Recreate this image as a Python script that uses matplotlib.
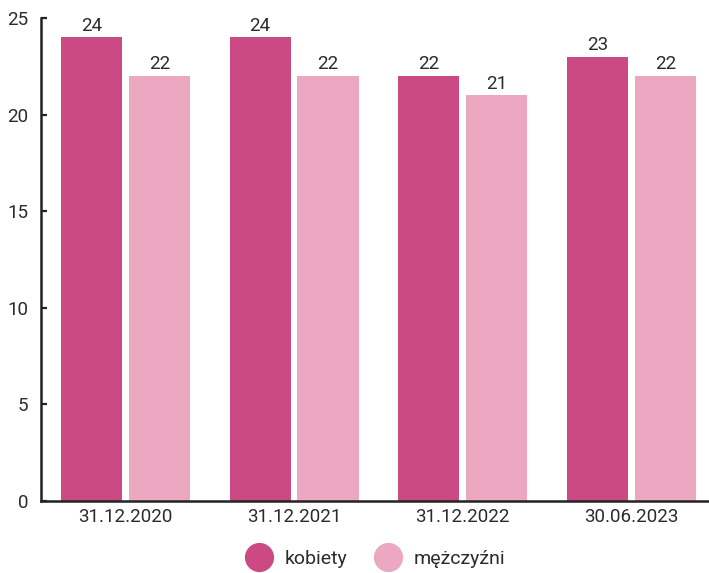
import matplotlib
matplotlib.use("Agg")
import matplotlib.pyplot as plt
import numpy as np
from matplotlib.lines import Line2D

categories = ["31.12.2020", "31.12.2021", "31.12.2022", "30.06.2023"]
kobiety = [24, 24, 22, 23]
mezczyzni = [22, 22, 21, 22]
series_names = ["kobiety", "mężczyźni"]

c_dark = "#CC4A83"
c_light = "#EDA8C1"
txt = "#2b2b2b"

plt.rcParams['font.family'] = ['Roboto', 'DejaVu Sans']

fig = plt.figure(figsize=(7.09, 5.73), dpi=100)
ax = fig.add_axes([41/709, 1-501/573, 1-41/709, (501-18)/573])

x = np.arange(len(categories))
w = 0.362
off = 0.2015
b1 = ax.bar(x - off, kobiety, w, color=c_dark, label=series_names[0])
b2 = ax.bar(x + off, mezczyzni, w, color=c_light, label=series_names[1])
for b in (b1, b2):
    ax.bar_label(b, padding=2, fontsize=13.5, color=txt)

ax.set_xlim(-0.5, 3.46)
ax.set_ylim(0, 25)
ax.set_yticks([0, 5, 10, 15, 20, 25])
ax.set_xticks(x)
ax.set_xticklabels(categories)

for s in ["top", "right"]:
    ax.spines[s].set_visible(False)
for s in ["left", "bottom"]:
    ax.spines[s].set_linewidth(1.8)
    ax.spines[s].set_color("#222222")

ax.tick_params(axis='y', direction='in', length=4, width=1.6, color="#222222",
               labelsize=13.5, labelcolor=txt, pad=9)
ax.tick_params(axis='x', length=0, labelsize=13.5, labelcolor=txt, pad=5)

handles = [Line2D([], [], marker='o', linestyle='none', markersize=20,
                  markerfacecolor=c, markeredgecolor=c) for c in (c_dark, c_light)]
fig.legend(handles, series_names, loc='center', bbox_to_anchor=(0.525, 1-559/573),
           ncol=2, frameon=False, fontsize=14, handletextpad=0.3,
           columnspacing=1.1, labelcolor=txt)

fig.savefig("out.png", dpi=100)
